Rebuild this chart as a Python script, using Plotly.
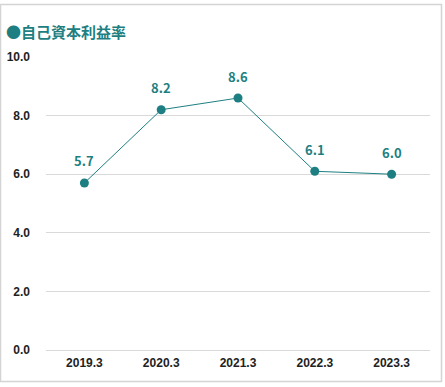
import plotly.graph_objects as go

categories = ["2019.3", "2020.3", "2021.3", "2022.3", "2023.3"]
roe = [5.7, 8.2, 8.6, 6.1, 6.0]
labels = ["5.7", "8.2", "8.6", "6.1", "6.0"]
y_ticks = [0, 2, 4, 6, 8, 10]
y_tick_labels = ["0.0", "2.0", "4.0", "6.0", "8.0", "10.0"]
title_text = "●自己資本利益率"

teal = "#1e7f82"
W, H = 445, 387
L, R, T, B = 46, 15, 57, 37
pw, ph = W - L - R, H - T - B

fig = go.Figure()
fig.add_trace(go.Scatter(
    x=categories, y=roe, mode="lines+markers",
    line=dict(color=teal, width=1),
    marker=dict(color=teal, size=9),
    cliponaxis=False, showlegend=False,
))

for i, (v, t) in enumerate(zip(roe, labels)):
    fig.add_annotation(x=i, y=v, text=t, showarrow=False, yshift=22,
                       xanchor="center", yanchor="middle",
                       font=dict(family="Noto Sans CJK JP", size=13, color=teal, weight="bold"))

def px2paper_x(px):
    return (px - L) / pw

def px2paper_y(py):
    return (H - B - py) / ph

fig.add_shape(type="rect", xref="paper", yref="paper",
              x0=px2paper_x(0.5), x1=px2paper_x(441.5),
              y0=px2paper_y(381.5), y1=px2paper_y(4.5),
              line=dict(color="#d4d4d4", width=1.5), fillcolor="rgba(0,0,0,0)",
              layer="below")

fig.add_annotation(text=title_text, xref="paper", yref="paper",
                   x=px2paper_x(4), y=px2paper_y(31), xanchor="left", yanchor="middle",
                   showarrow=False,
                   font=dict(family="Noto Sans CJK JP", size=15, color=teal, weight="bold"))

fig.update_layout(
    width=W, height=H,
    margin=dict(l=L, r=R, t=T, b=B, autoexpand=False),
    paper_bgcolor="white", plot_bgcolor="white",
    font=dict(family="Liberation Sans", size=12, color="#222222"),
)
fig.update_xaxes(type="category", range=[-0.5, 4.5], showgrid=False, zeroline=False, showline=False,
                 tickfont=dict(family="Liberation Sans", size=12, color="#222222", weight="bold"),
                 ticks="", ticklabelstandoff=4, automargin=False)
fig.update_yaxes(range=[0, 10], tickvals=y_ticks, ticktext=y_tick_labels,
                 showgrid=True, gridcolor="#d9d9d9", gridwidth=1,
                 zeroline=True, zerolinecolor="#d9d9d9", zerolinewidth=1,
                 showline=False,
                 tickfont=dict(family="Liberation Sans", size=12, color="#222222", weight="bold"),
                 ticks="", ticklabelstandoff=15, automargin=False)

fig.write_html("out.html", config=dict(displayModeBar=False),
               post_script="document.body.style.margin='0';")
